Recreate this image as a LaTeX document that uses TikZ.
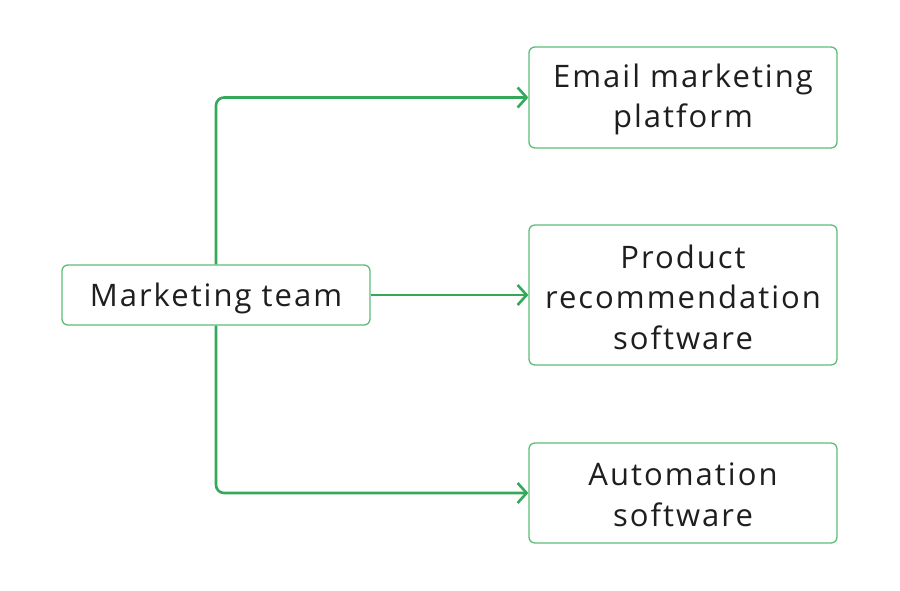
\documentclass[tikz,border=0pt]{standalone}
\usepackage{fontspec}
\setmainfont[LetterSpace=6.5]{Open Sans}
\usetikzlibrary{arrows.meta}
\definecolor{linegreen}{HTML}{36A85A}
\definecolor{boxgreen}{HTML}{5DBB78}
\definecolor{txt}{HTML}{1E1E1E}
\begin{document}
\begin{tikzpicture}[x=1pt,y=-1pt,
  box/.style={draw=boxgreen, line width=1.3pt, rounded corners=6pt,
    inner sep=0pt, minimum width=308pt},
  lbl/.style={text=txt, font=\fontsize{31}{40.5}\selectfont, align=center, inner sep=0pt, yshift=-2pt},
  conn/.style={draw=linegreen, line width=2.6pt, rounded corners=8pt,
    -{Straight Barb[length=9pt,width=20pt,line width=2.6pt]}}]
\useasboundingbox (0,0) rectangle (900,591);
\node[box, minimum height=60pt, label={[lbl,yshift=-1pt]center:Marketing team}] (mt) at (216,295) {};
\node[box, minimum height=101pt, label={[lbl]center:Email marketing\\platform}] (em) at (683,97.5) {};
\node[box, minimum height=140pt, label={[lbl]center:Product\\recommendation\\software}] (pr) at (683,295) {};
\node[box, minimum height=100pt, label={[lbl]center:Automation\\software}] (au) at (683,493) {};
\draw[conn] (mt.north) |- (em.west);
\draw[conn] (mt.east) -- (pr.west);
\draw[conn] (mt.south) |- (au.west);
\end{tikzpicture}
\end{document}
